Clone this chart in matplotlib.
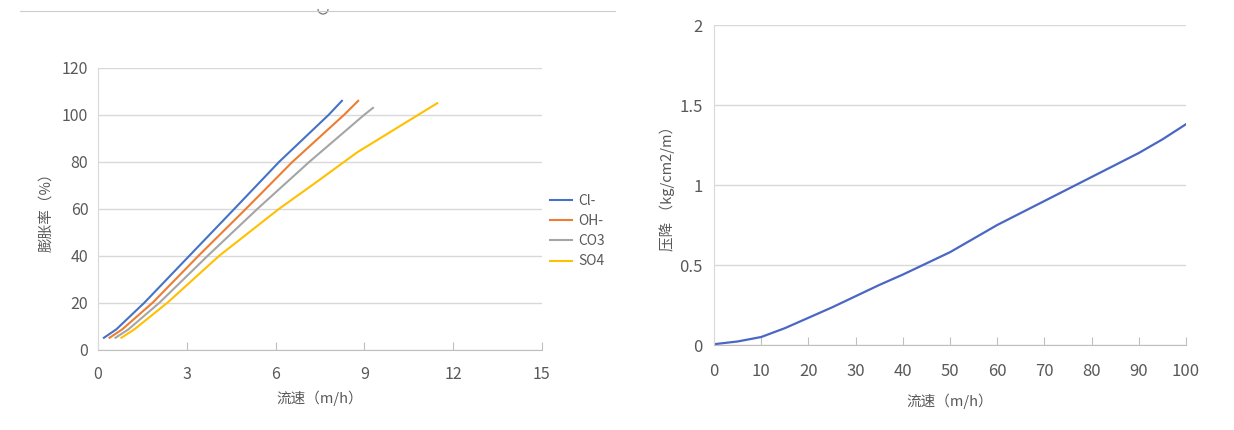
import matplotlib.pyplot as plt
from matplotlib.lines import Line2D
from matplotlib.patches import Arc

plt.rcParams['font.family'] = ['Noto Sans CJK SC', 'DejaVu Sans']

# left chart: expansion rate vs flow speed for each ionic form
cl_x = [0.2, 0.62, 1.57, 3.09, 4.61, 6.12, 7.79, 8.24]
cl_y = [5, 8.6, 20, 40, 60, 80, 100, 106]
oh_x = [0.39, 0.82, 1.85, 3.40, 5.0, 6.57, 8.31, 8.79]
oh_y = [5, 8.6, 20, 40, 60, 80, 100, 106]
co3_x = [0.59, 1.02, 2.08, 3.71, 5.39, 7.14, 8.99, 9.29]
co3_y = [5, 8.5, 20, 40, 60, 80, 100, 103]
so4_x = [0.79, 1.22, 2.35, 4.10, 6.12, 7.45, 8.75, 11.46]
so4_y = [5, 8.5, 20, 40, 60, 72, 84, 105]

# right chart: pressure drop vs flow speed
dp_x = [0, 5, 10, 15, 20, 25, 30, 35, 40, 45, 50, 55, 60, 65, 70, 75, 80, 85, 90, 95, 100]
dp_y = [0.005, 0.022, 0.05, 0.105, 0.17, 0.235, 0.305, 0.375, 0.44, 0.51, 0.58,
        0.665, 0.75, 0.825, 0.9, 0.975, 1.05, 1.125, 1.2, 1.285, 1.38]

grid_c = '#d9d9d9'
text_c = '#595959'

fig = plt.figure(figsize=(12.34, 4.3), dpi=100)


def style_axes(ax):
    ax.set_facecolor('white')
    ax.grid(axis='y', color=grid_c, linewidth=1.0)
    ax.set_axisbelow(True)
    for s in ['top', 'right']:
        ax.spines[s].set_visible(False)
    ax.spines['left'].set_color(grid_c)
    ax.spines['bottom'].set_color('#bfbfbf')
    ax.tick_params(axis='x', direction='in', length=6, color='#bfbfbf',
                   labelsize=11.5, labelcolor=text_c, pad=12)
    ax.tick_params(axis='y', length=0, labelsize=11.5, labelcolor=text_c, pad=7)


ax1 = fig.add_axes([98 / 1234, 80.5 / 430, 444 / 1234, 281.5 / 430])
style_axes(ax1)
ax1.plot(cl_x, cl_y, color='#4472c4', lw=1.5, label='Cl-')
ax1.plot(oh_x, oh_y, color='#ed7d31', lw=1.5, label='OH-')
ax1.plot(co3_x, co3_y, color='#a5a5a5', lw=1.5, label='CO3')
ax1.plot(so4_x, so4_y, color='#ffc000', lw=1.5, label='SO4')
ax1.set_xlim(0, 15)
ax1.set_ylim(0, 120)
ax1.set_xticks(range(0, 16, 3))
ax1.set_yticks(range(0, 121, 20))
ax1.set_xlabel('流速（m/h）', color=text_c, fontsize=10.5, labelpad=5)
ax1.set_ylabel('膨胀率（%）', color=text_c, fontsize=10.5, labelpad=6)
fig.legend(loc='center left', bbox_to_anchor=(537 / 1234, 1 - 231 / 430),
           frameon=False, fontsize=10, handlelength=1.6, handletextpad=0.5,
           labelspacing=0.45, labelcolor=text_c)

ax2 = fig.add_axes([714 / 1234, 85 / 430, 472 / 1234, 320 / 430])
style_axes(ax2)
ax2.tick_params(axis='x', pad=13, labelsize=12)
ax2.tick_params(axis='y', pad=8, labelsize=12)
ax2.plot(dp_x, dp_y, color='#4a67c4', lw=1.6)
ax2.set_xlim(0, 100)
ax2.set_ylim(0, 2)
ax2.set_xticks(range(0, 101, 10))
ax2.set_yticks([0, 0.5, 1, 1.5, 2])
ax2.set_yticklabels(['0', '0.5', '1', '1.5', '2'])
ax2.set_xlabel('流速（m/h）', color=text_c, fontsize=10.5, labelpad=10)
ax2.set_ylabel('压降 （kg/cm2/m）', color=text_c, fontsize=10.5, labelpad=3)

# thin screenshot frame line at top with a small notch
fig.add_artist(Line2D([20 / 1234, 615 / 1234], [1 - 11 / 430, 1 - 11 / 430],
                      color='#cccccc', lw=0.8, transform=fig.transFigure))
fig.add_artist(Arc((323 / 1234, 1 - 9 / 430), 10 / 1234, 10 / 430, theta1=180, theta2=360,
                   color='#777777', lw=0.9, transform=fig.transFigure))

fig.savefig('out.png', dpi=100, facecolor='white')
